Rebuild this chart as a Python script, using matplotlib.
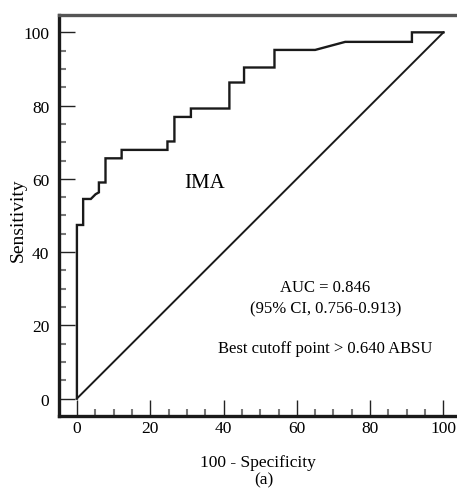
import numpy as np
import matplotlib
matplotlib.use("Agg")
import matplotlib.pyplot as plt
from matplotlib.ticker import MultipleLocator

plt.rcParams['font.family'] = ['Liberation Serif', 'DejaVu Serif']

# ROC curve for IMA (100 - specificity vs sensitivity, in %)
fpr = [0, 0, 1.7, 1.7, 3.8, 5.1, 6.0, 6.0, 7.8, 7.8, 12.2, 12.2, 24.7, 24.7,
       26.6, 26.6, 31.1, 31.1, 41.6, 41.6, 45.6, 45.6, 53.9, 53.9, 65.0,
       73.2, 91.4, 91.4, 100]
tpr = [0, 47.4, 47.4, 54.5, 54.5, 55.8, 56.3, 59.0, 59.0, 65.6, 65.6, 67.9,
       67.9, 70.2, 70.2, 76.9, 76.9, 79.2, 79.2, 86.3, 86.3, 90.4, 90.4, 95.2,
       95.2, 97.4, 97.4, 100, 100]
ref_line = [0, 100]

auc = 0.846
ci_low, ci_high = 0.756, 0.913
cutoff = 0.640

fig = plt.figure(figsize=(4.57, 4.89), dpi=100)
ax = fig.add_axes([0.129, 0.147, 0.871, 0.820])

ax.plot(ref_line, ref_line, color='#1a1a1a', lw=1.4)
ax.plot(fpr, tpr, color='#1a1a1a', lw=1.7, solid_joinstyle='miter')

ax.set_xlim(-4.9, 103.7)
ax.set_ylim(-4.8, 104.7)

ax.xaxis.set_major_locator(MultipleLocator(20))
ax.xaxis.set_minor_locator(MultipleLocator(5))
ax.yaxis.set_major_locator(MultipleLocator(20))
ax.yaxis.set_minor_locator(MultipleLocator(5))
ax.tick_params(which='major', direction='in', length=11.5, width=1.0,
               color='#222222', labelsize=12.5)
ax.tick_params(axis='x', which='major', pad=3)
ax.tick_params(axis='y', which='major', pad=7)
ax.tick_params(which='minor', direction='in', length=5, width=1.5,
               color='#777777')

for side in ['left', 'bottom']:
    ax.spines[side].set_linewidth(2.4)
    ax.spines[side].set_color('#1a1a1a')
ax.spines['top'].set_linewidth(2.4)
ax.spines['top'].set_color('#555555')
ax.spines['right'].set_visible(False)

ax.set_xlabel('100 - Specificity', fontsize=12.5, labelpad=13)
ax.set_ylabel('Sensitivity', fontsize=14)
ax.yaxis.set_label_coords(-0.080, 0.49)

ax.text(34.8, 59.1, 'IMA', fontsize=15, ha='center', va='center')
ax.text(67.8, 30.4, 'AUC = %.3f' % auc, fontsize=12, ha='center', va='center')
ax.text(67.8, 24.6, '(95%% CI, %.3f-%.3f)' % (ci_low, ci_high),
        fontsize=12, ha='center', va='center')
ax.text(67.8, 13.9, 'Best cutoff point > %.3f ABSU' % cutoff,
        fontsize=12, ha='center', va='center')

fig.text(0.578, 0.018, '(a)', fontsize=12.5, ha='center', va='center')

fig.savefig('out.png', dpi=100)
